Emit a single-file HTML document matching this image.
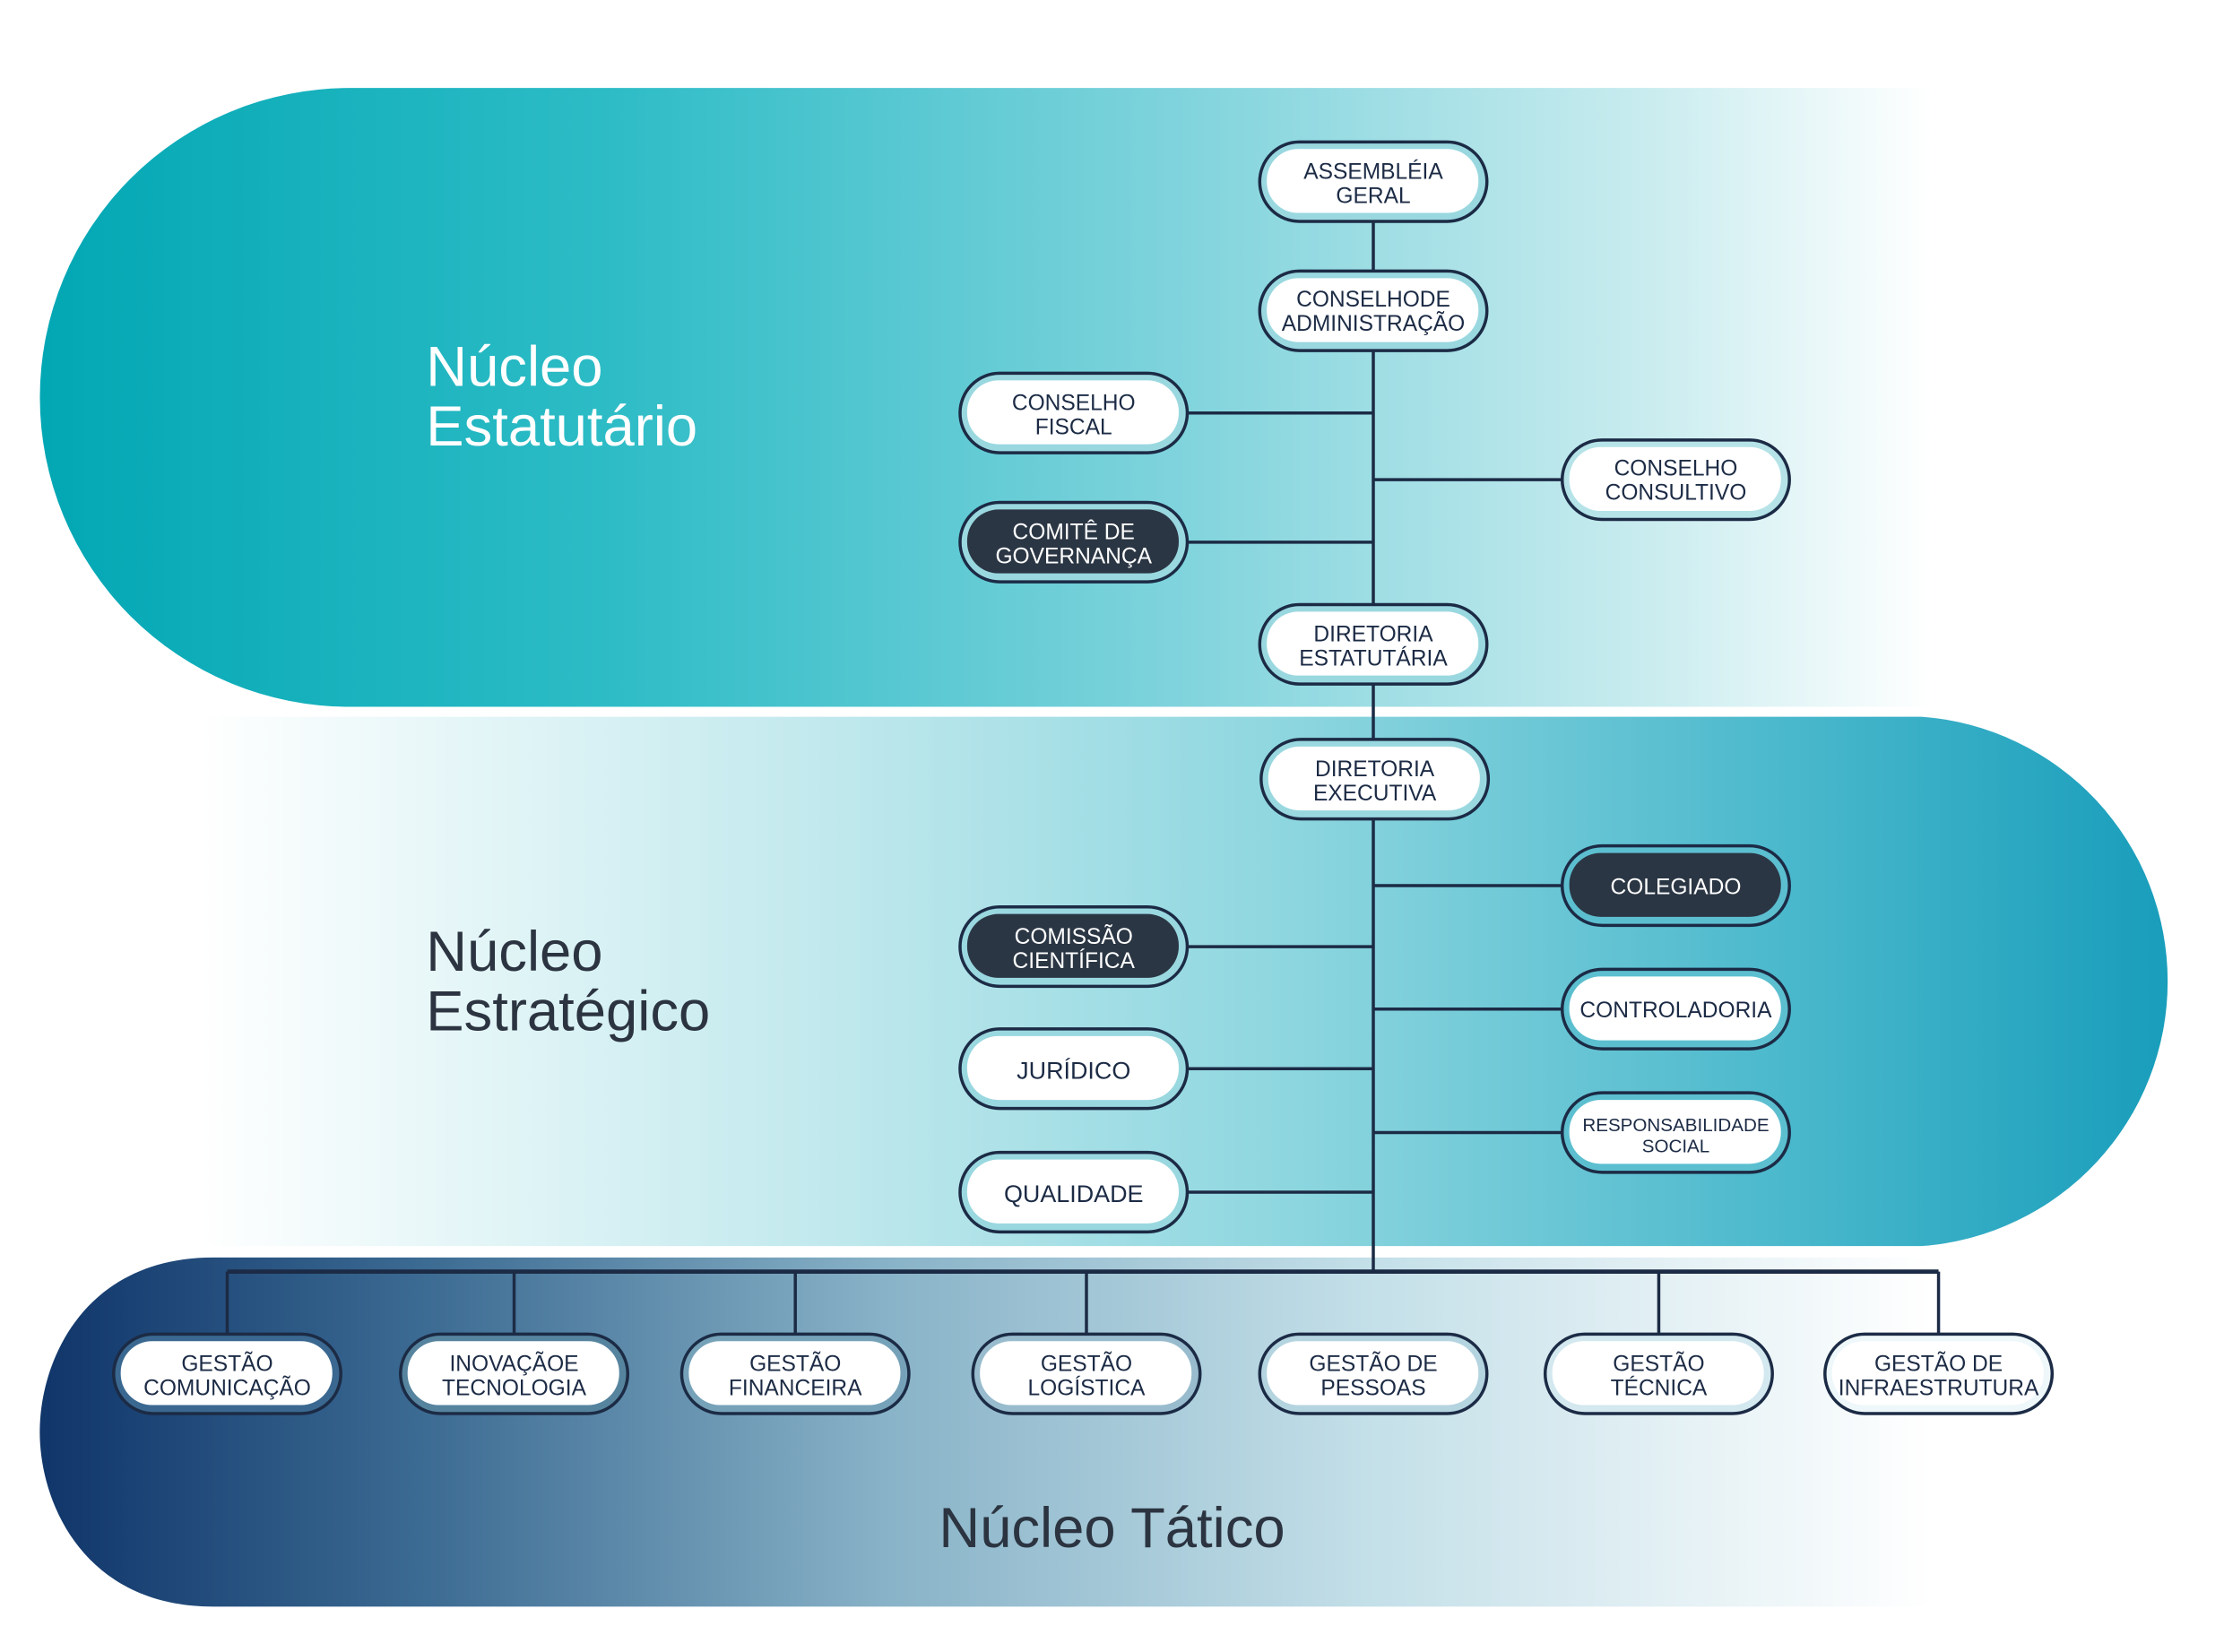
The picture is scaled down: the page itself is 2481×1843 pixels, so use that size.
<!DOCTYPE html>
<html><head><meta charset="utf-8"><style>
html,body{margin:0;padding:0;background:#fff;}
svg{display:block}
text{font-family:"Liberation Sans",sans-serif;}
</style></head><body>
<svg width="2481" height="1843" viewBox="0 0 1566 1164" preserveAspectRatio="none" xmlns="http://www.w3.org/2000/svg">
<defs>
<linearGradient id="g1" x1="28" x2="1360" y1="0" y2="0" gradientUnits="userSpaceOnUse">
<stop offset="0" stop-color="#02a7b4"/><stop offset="0.3" stop-color="#2dbcc6"/><stop offset="0.6" stop-color="#7fd3dc"/><stop offset="0.85" stop-color="#c9ecef"/><stop offset="1" stop-color="#ffffff"/></linearGradient>
<linearGradient id="g2" x1="140" x2="1540" y1="0" y2="0" gradientUnits="userSpaceOnUse">
<stop offset="0" stop-color="#ffffff"/><stop offset="0.3" stop-color="#c4eaee"/><stop offset="0.55" stop-color="#8dd6df"/><stop offset="0.8" stop-color="#4ab8cc"/><stop offset="1" stop-color="#169cba"/></linearGradient>
<linearGradient id="g3" x1="28" x2="1360" y1="0" y2="0" gradientUnits="userSpaceOnUse">
<stop offset="0" stop-color="#10356a"/><stop offset="0.2" stop-color="#3b6a92"/><stop offset="0.45" stop-color="#89b3c8"/><stop offset="0.7" stop-color="#c3dfe8"/><stop offset="1" stop-color="#ffffff"/></linearGradient>
</defs>
<path d="M246 62 H1360 V498 H246 A218 218 0 0 1 246 62 Z" fill="url(#g1)"/>
<path d="M140 505 H1353 A187 187 0 0 1 1353 878 H140 Z" fill="url(#g2)"/>
<path d="M150 886 H1360 V1132 H150 C60 1132 28 1060 28 1009 C28 958 60 886 150 886 Z" fill="url(#g3)"/>

<text x="300" y="272" font-size="40" fill="#fff">Núcleo</text>
<text x="300" y="314" font-size="40" fill="#fff">Estatutário</text>
<text x="300" y="684" font-size="40" fill="#2b3440">Núcleo</text>
<text x="300" y="726" font-size="40" fill="#2b3440">Estratégico</text>
<text x="783" y="1090" font-size="40" fill="#2b3440" text-anchor="middle">Núcleo Tático</text>

<g stroke="#1c2b45" stroke-width="2.2" fill="none">
<line x1="967" y1="156" x2="967" y2="897"/>
<line x1="836" y1="291" x2="967" y2="291"/>
<line x1="967" y1="338" x2="1100" y2="338"/>
<line x1="836" y1="382" x2="967" y2="382"/>
<line x1="967" y1="624" x2="1100" y2="624"/>
<line x1="836" y1="667" x2="967" y2="667"/>
<line x1="967" y1="711" x2="1100" y2="711"/>
<line x1="836" y1="753" x2="967" y2="753"/>
<line x1="967" y1="798" x2="1100" y2="798"/>
<line x1="836" y1="840" x2="967" y2="840"/>
<line x1="160" y1="896" x2="1365" y2="896" stroke-width="3"/>
<line x1="160" y1="896" x2="160" y2="940"/><line x1="362" y1="896" x2="362" y2="940"/>
<line x1="560" y1="896" x2="560" y2="940"/><line x1="765" y1="896" x2="765" y2="940"/>
<line x1="1168" y1="896" x2="1168" y2="940"/><line x1="1365" y1="896" x2="1365" y2="940"/>
</g>

<g font-size="15.5" text-anchor="middle">
<g><rect x="887" y="100" width="160" height="56" rx="28" fill="#9ad8e0" stroke="#1c2b45" stroke-width="2.2"/><rect x="892" y="105" width="149" height="45" rx="22" fill="#fff"/><text x="967" y="126" fill="#1c2b45">ASSEMBLÉIA</text><text x="967" y="143" fill="#1c2b45">GERAL</text></g>
<g><rect x="887" y="191" width="160" height="56" rx="28" fill="#9ad8e0" stroke="#1c2b45" stroke-width="2.2"/><rect x="892" y="196" width="149" height="45" rx="22" fill="#fff"/><text x="967" y="216" fill="#1c2b45">CONSELHODE</text><text x="967" y="233" fill="#1c2b45">ADMINISTRAÇÃO</text></g>
<g><rect x="676" y="263" width="160" height="56" rx="28" fill="#9ad8e0" stroke="#1c2b45" stroke-width="2.2"/><rect x="681" y="268" width="149" height="45" rx="22" fill="#fff"/><text x="756" y="289" fill="#1c2b45">CONSELHO</text><text x="756" y="306" fill="#1c2b45">FISCAL</text></g>
<g><rect x="1100" y="310" width="160" height="56" rx="28" fill="#b5e3e8" stroke="#1c2b45" stroke-width="2.2"/><rect x="1105" y="315" width="149" height="45" rx="22" fill="#fff"/><text x="1180" y="335" fill="#1c2b45">CONSELHO</text><text x="1180" y="352" fill="#1c2b45">CONSULTIVO</text></g>
<g><rect x="676" y="354" width="160" height="56" rx="28" fill="#9ad8e0" stroke="#1c2b45" stroke-width="2.2"/><rect x="681" y="359" width="149" height="45" rx="22" fill="#2b3644"/><text x="756" y="380" fill="#fff">COMITÊ DE</text><text x="756" y="397" fill="#fff">GOVERNANÇA</text></g>
<g><rect x="887" y="426" width="160" height="56" rx="28" fill="#9ad8e0" stroke="#1c2b45" stroke-width="2.2"/><rect x="892" y="431" width="149" height="45" rx="22" fill="#fff"/><text x="967" y="452" fill="#1c2b45">DIRETORIA</text><text x="967" y="469" fill="#1c2b45">ESTATUTÁRIA</text></g>
<g><rect x="888" y="521" width="160" height="56" rx="28" fill="#9ad8e0" stroke="#1c2b45" stroke-width="2.2"/><rect x="893" y="526" width="149" height="45" rx="22" fill="#fff"/><text x="968" y="547" fill="#1c2b45">DIRETORIA</text><text x="968" y="564" fill="#1c2b45">EXECUTIVA</text></g>
<g><rect x="1100" y="596" width="160" height="56" rx="28" fill="#5cbfd0" stroke="#1c2b45" stroke-width="2.2"/><rect x="1105" y="601" width="149" height="45" rx="22" fill="#2b3644"/><text x="1180" y="630" fill="#fff">COLEGIADO</text></g>
<g><rect x="676" y="639" width="160" height="56" rx="28" fill="#9ad8e0" stroke="#1c2b45" stroke-width="2.2"/><rect x="681" y="644" width="149" height="45" rx="22" fill="#2b3644"/><text x="756" y="665" fill="#fff">COMISSÃO</text><text x="756" y="682" fill="#fff">CIENTÍFICA</text></g>
<g><rect x="1100" y="683" width="160" height="56" rx="28" fill="#5cbfd0" stroke="#1c2b45" stroke-width="2.2"/><rect x="1105" y="688" width="149" height="45" rx="22" fill="#fff"/><text x="1180" y="717" fill="#1c2b45">CONTROLADORIA</text></g>
<g><rect x="676" y="725" width="160" height="56" rx="28" fill="#9ad8e0" stroke="#1c2b45" stroke-width="2.2"/><rect x="681" y="730" width="149" height="45" rx="22" fill="#fff"/><text x="756" y="760" fill="#1c2b45" font-size="17">JURÍDICO</text></g>
<g><rect x="1100" y="770" width="160" height="56" rx="28" fill="#5cbfd0" stroke="#1c2b45" stroke-width="2.2"/><rect x="1105" y="775" width="149" height="45" rx="22" fill="#fff"/><text x="1180" y="797" fill="#1c2b45" font-size="13">RESPONSABILIDADE</text><text x="1180" y="812" fill="#1c2b45" font-size="13">SOCIAL</text></g>
<g><rect x="676" y="812" width="160" height="56" rx="28" fill="#9ad8e0" stroke="#1c2b45" stroke-width="2.2"/><rect x="681" y="817" width="149" height="45" rx="22" fill="#fff"/><text x="756" y="847" fill="#1c2b45" font-size="17">QUALIDADE</text></g>

<g><rect x="80" y="940" width="160" height="56" rx="28" fill="#3a6890" stroke="#1c2b45" stroke-width="2.2"/><rect x="85" y="945" width="149" height="45" rx="22" fill="#fff"/><text x="160" y="966" fill="#1c2b45">GESTÃO</text><text x="160" y="983" fill="#1c2b45">COMUNICAÇÃO</text></g>
<g><rect x="282" y="940" width="160" height="56" rx="28" fill="#56849f" stroke="#1c2b45" stroke-width="2.2"/><rect x="287" y="945" width="149" height="45" rx="22" fill="#fff"/><text x="362" y="966" fill="#1c2b45">INOVAÇÃOE</text><text x="362" y="983" fill="#1c2b45">TECNOLOGIA</text></g>
<g><rect x="480" y="940" width="160" height="56" rx="28" fill="#76a2b9" stroke="#1c2b45" stroke-width="2.2"/><rect x="485" y="945" width="149" height="45" rx="22" fill="#fff"/><text x="560" y="966" fill="#1c2b45">GESTÃO</text><text x="560" y="983" fill="#1c2b45">FINANCEIRA</text></g>
<g><rect x="685" y="940" width="160" height="56" rx="28" fill="#98bccd" stroke="#1c2b45" stroke-width="2.2"/><rect x="690" y="945" width="149" height="45" rx="22" fill="#fff"/><text x="765" y="966" fill="#1c2b45">GESTÃO</text><text x="765" y="983" fill="#1c2b45">LOGÍSTICA</text></g>
<g><rect x="887" y="940" width="160" height="56" rx="28" fill="#b4d4e0" stroke="#1c2b45" stroke-width="2.2"/><rect x="892" y="945" width="149" height="45" rx="22" fill="#fff"/><text x="967" y="966" fill="#1c2b45">GESTÃO DE</text><text x="967" y="983" fill="#1c2b45">PESSOAS</text></g>
<g><rect x="1088" y="940" width="160" height="56" rx="28" fill="#d3e8ef" stroke="#1c2b45" stroke-width="2.2"/><rect x="1093" y="945" width="149" height="45" rx="22" fill="#fff"/><text x="1168" y="966" fill="#1c2b45">GESTÃO</text><text x="1168" y="983" fill="#1c2b45">TÉCNICA</text></g>
<g><rect x="1285" y="940" width="160" height="56" rx="28" fill="#eef7fa" stroke="#1c2b45" stroke-width="2.2"/><rect x="1290" y="945" width="149" height="45" rx="22" fill="#fff"/><text x="1365" y="966" fill="#1c2b45">GESTÃO DE</text><text x="1365" y="983" fill="#1c2b45">INFRAESTRUTURA</text></g>
</g>
</svg>
</body></html>
